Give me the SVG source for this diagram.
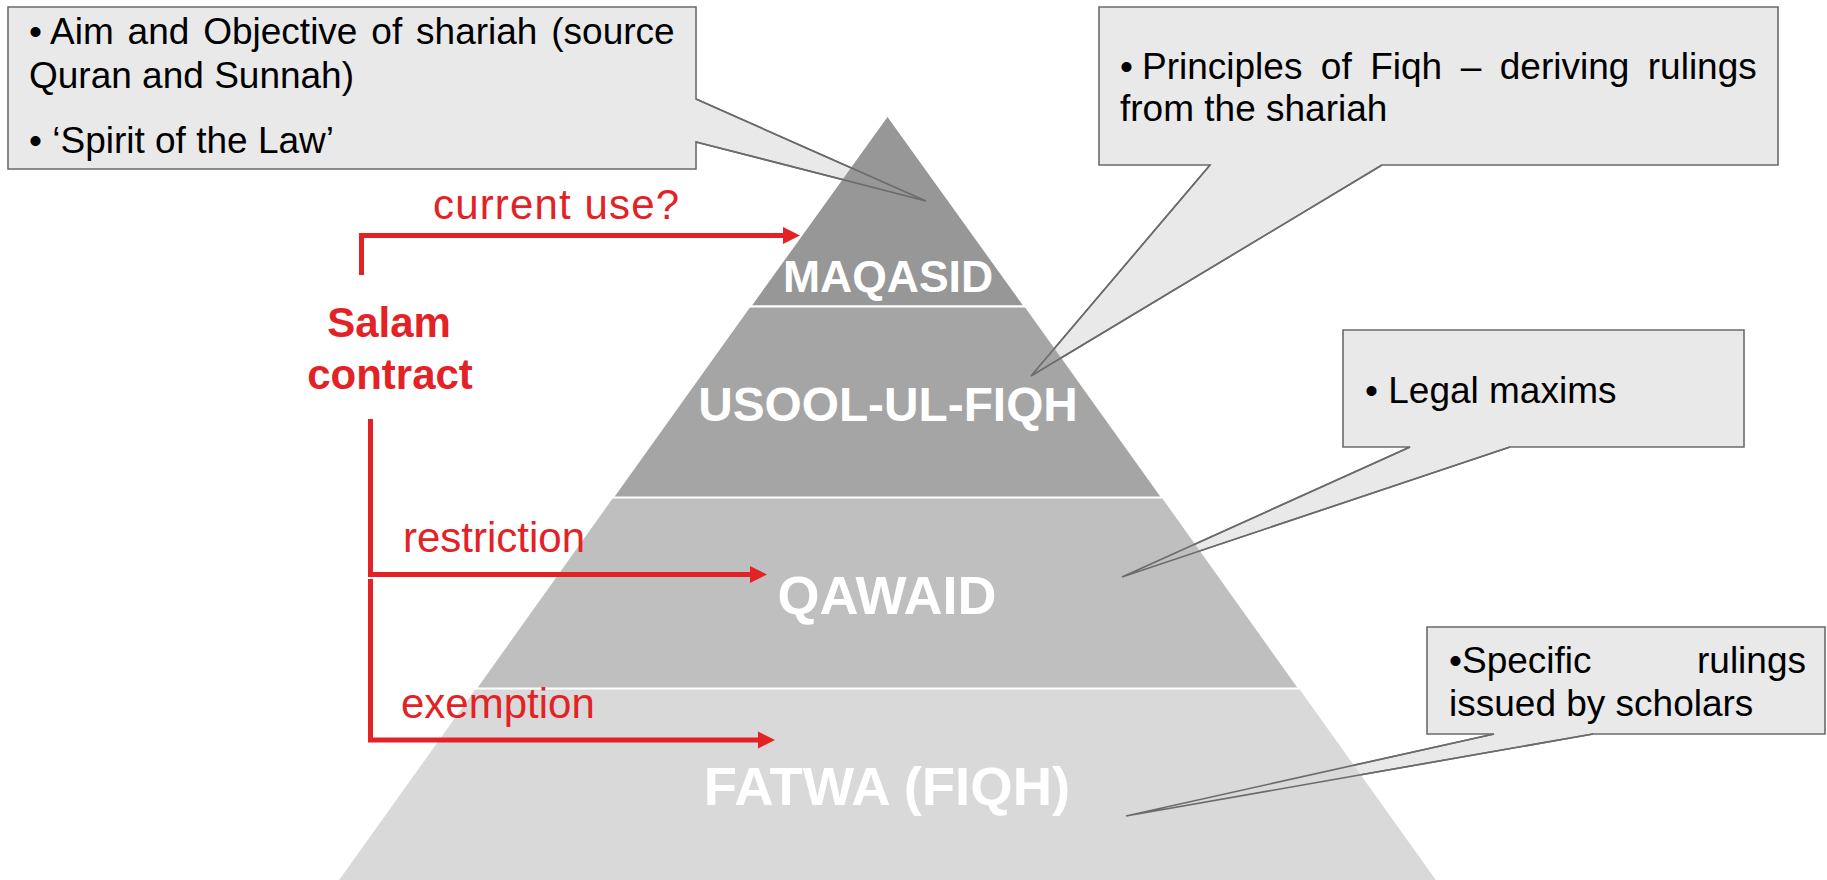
<svg xmlns="http://www.w3.org/2000/svg" width="1827" height="880" viewBox="0 0 1827 880">
  <defs>
    <style>
      .callout { fill: #e9e9e9; stroke: #6b6b6b; stroke-width: 1.6; stroke-linejoin: miter; }
      .tail { fill: none; stroke: #6b6b6b; stroke-width: 1.6; }
      .ctext { font-family: "Liberation Sans", Arial, sans-serif; font-size: 37px; fill: #000; }
      .tier-label { font-family: "Liberation Sans", Arial, sans-serif; font-weight: bold; fill: #fff; text-anchor: middle; }
      .sep { stroke: #fff; stroke-width: 2; }
      .red-line { fill: none; stroke: #e32226; stroke-width: 5; stroke-linejoin: miter; }
      .red-head { fill: #e32226; }
      .red-text { font-family: "Liberation Sans", Arial, sans-serif; font-size: 42px; fill: #e32226; }
      .red-bold { font-family: "Liberation Sans", Arial, sans-serif; font-size: 42px; font-weight: bold; fill: #e32226; text-anchor: middle; }
    </style>
  </defs>
  <rect width="1827" height="880" fill="#fff"/>

  <!-- callout boxes (drawn beneath the pyramid) -->
  <g id="callout-maqasid">
    <path class="callout" d="M8,7 H696 V99 L926,201 L696,142 V169 H8 Z"/>
    <text class="ctext" x="29" y="44">•</text>
    <text class="ctext" x="50" y="44" word-spacing="3.6">Aim and Objective of shariah (source</text>
    <text class="ctext" x="29" y="88">Quran and Sunnah)</text>
    <text class="ctext" x="29" y="153">• ‘Spirit of the Law’</text>
  </g>
  <g id="callout-usool">
    <path class="callout" d="M1099,7 H1778 V165 H1382 L1031,376 L1210,165 H1099 Z"/>
    <text class="ctext" x="1120" y="79">•</text>
    <text class="ctext" x="1142" y="79" word-spacing="8.2">Principles of Fiqh – deriving rulings</text>
    <text class="ctext" x="1120" y="121">from the shariah</text>
  </g>
  <g id="callout-qawaid">
    <path class="callout" d="M1343,330 H1744 V447 H1510 L1122,577 L1410,447 H1343 Z"/>
    <text class="ctext" x="1365" y="403">• Legal maxims</text>
  </g>
  <g id="callout-fatwa">
    <path class="callout" d="M1427,627 H1825 V734 H1593 L1126,816 L1494,734 H1427 Z"/>
    <text class="ctext" x="1449" y="673">•Specific</text>
    <text class="ctext" x="1806" y="673" text-anchor="end">rulings</text>
    <text class="ctext" x="1449" y="716">issued by scholars</text>
  </g>

  <!-- pyramid tiers -->
  <g id="tier-maqasid">
    <polygon points="887.5,117 1023,305.5 752,305.5" fill="#979797"/>
    <text class="tier-label" x="888" y="292" font-size="44.5">MAQASID</text>
  </g>
  <g id="tier-usool">
    <polygon points="750.6,306.5 1024.4,306.5 1161,497.5 614,497.5" fill="#a5a5a5"/>
    <text class="tier-label" x="888" y="421" font-size="47.8">USOOL-UL-FIQH</text>
  </g>
  <g id="tier-qawaid">
    <polygon points="613.3,497.5 1161.7,497.5 1298,688.5 477,688.5" fill="#bfbfbf"/>
    <text class="tier-label" x="887" y="614" font-size="54">QAWAID</text>
  </g>
  <g id="tier-fatwa">
    <polygon points="476,688.5 1299,688.5 1443,890 332,890" fill="#d9d9d9"/>
    <text class="tier-label" x="887" y="805" font-size="54.5">FATWA (FIQH)</text>
  </g>
  <g id="tier-separators">
    <line class="sep" x1="740" y1="306.5" x2="1035" y2="306.5"/>
    <line class="sep" x1="600" y1="497.5" x2="1175" y2="497.5"/>
    <line class="sep" x1="465" y1="688.5" x2="1310" y2="688.5"/>
  </g>

  <!-- connectors: callout pointers over the pyramid and the red arrows -->
  <g id="connectors">
    <polyline class="tail" points="696,99 926,201 696,142"/>
    <polyline class="tail" points="1210,165 1031,376 1382,165"/>
    <polyline class="tail" points="1410,447 1122,577 1510,447"/>
    <polyline class="tail" points="1494,734 1126,816 1593,734"/>

    <path class="red-line" d="M361.5,275 V235.5 H785"/>
    <polygon class="red-head" points="783,227 800,235.5 783,244"/>

    <path class="red-line" d="M370.5,419 V574.5 H752"/>
    <polygon class="red-head" points="750,566 767,574.5 750,583"/>

    <path class="red-line" d="M370.5,579 V740 H760"/>
    <polygon class="red-head" points="758,731.5 775,740 758,748.5"/>
  </g>

  <g id="salam-contract">
    <text class="red-bold" x="389" y="337">Salam</text>
    <text class="red-bold" x="390" y="389">contract</text>
  </g>
  <g id="arrow-labels">
    <text class="red-text" x="433" y="219" font-size="44" textLength="246" lengthAdjust="spacing">current use?</text>
    <text class="red-text" x="403" y="552">restriction</text>
    <text class="red-text" x="401" y="718">exemption</text>
  </g>
</svg>
